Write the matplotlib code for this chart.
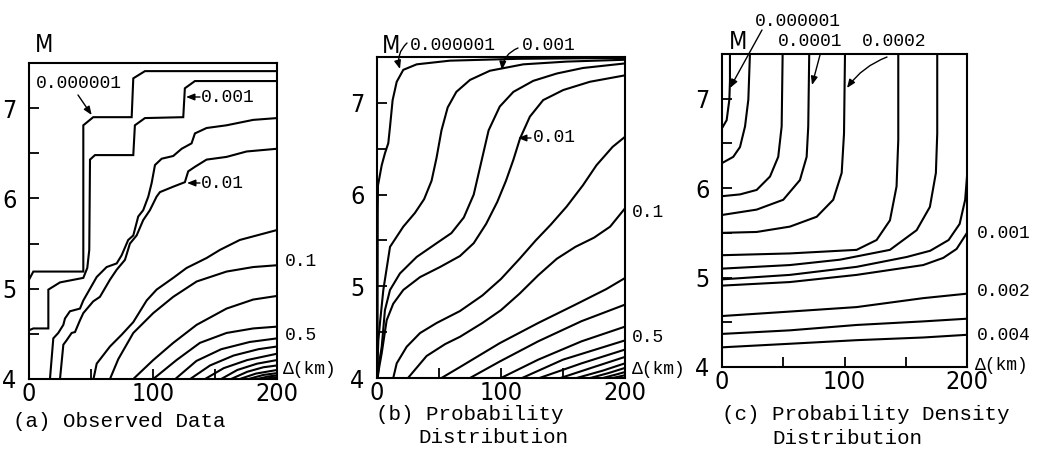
import matplotlib
matplotlib.use("Agg")
import matplotlib.pyplot as plt
from matplotlib import font_manager

W, H = 1046, 454
names = {f.name for f in font_manager.fontManager.ttflist}
if 'Liberation Sans Narrow' in names:
    TICK_FONT = dict(family='Liberation Sans Narrow')
else:
    TICK_FONT = dict(family='DejaVu Sans', stretch='condensed')
MONO_FONT = ['Liberation Mono', 'DejaVu Sans Mono']

# (a) observed data: contour polylines, (distance km, magnitude M)
obs_contours = [
    [(0, 5.10), (3.5, 5.19), (43.8, 5.19), (43.8, 6.81), (51.8, 6.90), (82.8, 6.90), (84.1, 7.33), (93.5, 7.41), (200, 7.41)],
    [(0, 4.54), (3.5, 4.56), (15.6, 4.56), (15.6, 4.99), (25.0, 5.07), (43.8, 5.12), (47.0, 5.23), (48.6, 5.43), (49.2, 6.43),
     (53.2, 6.48), (84.1, 6.48), (85.4, 6.81), (93.5, 6.89), (124.4, 6.90), (125.7, 7.22), (133.8, 7.30), (200, 7.30)],
    [(16.9, 4.0), (19.6, 4.45), (23.6, 4.51), (27.7, 4.60), (29.0, 4.67), (33.0, 4.75), (41.1, 4.78), (43.8, 4.87), (54.6, 5.13),
     (62.6, 5.24), (70.7, 5.28), (74.7, 5.37), (80.0, 5.54), (84.1, 5.59), (88.1, 5.80), (92.1, 5.87), (96.2, 6.02), (98.9, 6.17),
     (101.6, 6.37), (107.0, 6.44), (116.3, 6.47), (123.1, 6.55), (131.1, 6.61), (133.8, 6.72), (143.2, 6.78), (159.3, 6.81),
     (180.8, 6.87), (200, 6.89)],
    [(25.0, 4.0), (27.7, 4.38), (30.4, 4.43), (34.4, 4.51), (37.1, 4.52), (41.1, 4.65), (43.8, 4.73), (51.8, 4.86), (57.2, 4.91),
     (65.3, 5.10), (70.7, 5.21), (77.4, 5.32), (81.4, 5.50), (86.8, 5.59), (92.1, 5.76), (97.5, 5.87), (102.9, 6.02), (105.6, 6.07),
     (116.3, 6.13), (125.7, 6.18), (128.4, 6.30), (133.8, 6.35), (143.2, 6.43), (159.3, 6.46), (175.5, 6.52), (200, 6.55)],
    [(52.0, 4.0), (54.6, 4.17), (65.3, 4.36), (74.7, 4.49), (84.1, 4.63), (94.9, 4.87), (102.9, 4.99), (116.3, 5.12), (127.1, 5.23),
     (143.2, 5.34), (154.0, 5.43), (170.0, 5.54), (200, 5.65)],
    [(65.3, 4.0), (72.0, 4.22), (84.1, 4.51), (100.2, 4.73), (116.3, 4.91), (135.2, 5.08), (159.3, 5.19), (180.8, 5.24), (200, 5.26)],
    [(84.1, 4.0), (100.2, 4.21), (116.3, 4.40), (135.2, 4.60), (159.3, 4.78), (180.8, 4.88), (200, 4.92)],
    [(100.2, 4.0), (119.0, 4.21), (137.8, 4.40), (159.3, 4.51), (180.8, 4.56), (200, 4.58)],
    [(118, 4.0), (135, 4.20), (155, 4.33), (178, 4.41), (200, 4.45)],
    [(130, 4.0), (146, 4.15), (165, 4.26), (185, 4.33), (200, 4.36)],
    [(142, 4.0), (157, 4.12), (176, 4.21), (200, 4.28)],
    [(155, 4.0), (168, 4.10), (184, 4.17), (200, 4.21)],
    [(163, 4.0), (176, 4.08), (189, 4.13), (200, 4.15)],
    [(170, 4.0), (183, 4.06), (200, 4.10)],
    [(177, 4.0), (189, 4.045), (200, 4.065)],
    [(184, 4.0), (193, 4.028), (200, 4.04)],
    [(189, 4.0), (196, 4.015), (200, 4.02)],
    [(194, 4.0), (200, 4.008)],
]

# (b) probability distribution
prob_contours = [
    [(0.4, 4.0), (0.5, 5.0), (0.6, 5.8), (0.8, 6.1), (3.8, 6.32), (6.4, 6.45), (9.1, 6.56), (10.5, 6.74), (12.6, 7.03),
     (15.9, 7.23), (21.2, 7.36), (32, 7.42), (58.8, 7.46), (112.6, 7.48), (200, 7.49)],
    [(0.3, 4.0), (0.5, 4.2), (1.1, 4.41), (2.4, 4.60), (5.1, 4.96), (10.5, 5.43), (21.2, 5.65), (30.6, 5.80), (38, 5.95),
     (44, 6.15), (48, 6.40), (52, 6.70), (57, 6.95), (64, 7.12), (75, 7.25), (91, 7.35), (118, 7.42), (153, 7.45), (200, 7.47)],
    [(0.4, 4.0), (1.5, 4.15), (3.8, 4.34), (6.4, 4.74), (10.5, 4.96), (18.5, 5.14), (32, 5.32), (48.1, 5.47), (60, 5.58),
     (70, 5.75), (78, 6.0), (84, 6.35), (90, 6.70), (99, 6.96), (110, 7.12), (126, 7.24), (145, 7.32), (166, 7.38), (200, 7.43)],
    [(0.5, 4.0), (1.8, 4.12), (3.8, 4.27), (7.8, 4.63), (13.1, 4.81), (21.2, 4.96), (34.7, 5.10), (50.8, 5.21), (66.9, 5.33),
     (78, 5.47), (88, 5.68), (97, 5.92), (104, 6.15), (110, 6.38), (115.3, 6.61), (123.3, 6.85), (134, 7.03), (150.2, 7.14),
     (171.7, 7.23), (200, 7.30)],
    [(13.1, 4.0), (15.9, 4.16), (23.9, 4.34), (34.7, 4.49), (48.1, 4.60), (66.9, 4.73), (85, 4.90), (100, 5.08), (115, 5.30),
     (128, 5.50), (140, 5.67), (153, 5.87), (166, 6.10), (177, 6.32), (190, 6.52), (200, 6.63)],
    [(25, 4.0), (40, 4.24), (55, 4.37), (67, 4.45), (85, 4.60), (100, 4.74), (115, 4.92), (130, 5.12), (145, 5.30),
     (160, 5.43), (175, 5.53), (188, 5.65), (200, 5.85)],
    [(52, 4.0), (67, 4.12), (99, 4.38), (130, 4.60), (160, 4.80), (185, 4.97), (200, 5.09)],
    [(75, 4.0), (99, 4.18), (130, 4.40), (165, 4.62), (200, 4.80)],
    [(100, 4.0), (130, 4.20), (165, 4.40), (200, 4.56)],
    [(117, 4.0), (150, 4.20), (200, 4.41)],
    [(131, 4.0), (165, 4.16), (200, 4.31)],
    [(148, 4.0), (175, 4.12), (200, 4.23)],
    [(161, 4.0), (182, 4.08), (200, 4.16)],
    [(172, 4.0), (187, 4.055), (200, 4.11)],
    [(182, 4.0), (192, 4.035), (200, 4.065)],
    [(190, 4.0), (200, 4.03)],
]

# (c) probability density distribution
dens_contours = [
    [(0, 6.67), (3.8, 6.76), (6.0, 6.99), (6.5, 7.2), (6.5, 7.5)],
    [(0, 6.28), (9.2, 6.35), (14.7, 6.46), (18.8, 6.69), (21.5, 6.99), (22.8, 7.5)],
    [(0, 5.91), (14.7, 5.93), (28.3, 5.98), (39.2, 6.13), (45.9, 6.35), (48.7, 6.69), (49.5, 7.5)],
    [(0, 5.70), (28.3, 5.76), (50, 5.87), (63.6, 6.09), (69.1, 6.35), (70.4, 6.69), (71.2, 7.5)],
    [(0, 5.50), (28.3, 5.51), (55.5, 5.57), (77.3, 5.68), (90.8, 5.87), (97.7, 6.17), (99.6, 6.61), (100.4, 7.5)],
    [(0, 5.25), (55.5, 5.27), (109.9, 5.31), (126.2, 5.42), (137.1, 5.64), (142.5, 6.02), (143.9, 6.54), (143.9, 7.5)],
    [(0, 5.10), (55.5, 5.14), (96.3, 5.20), (137.1, 5.31), (158.9, 5.53), (169.7, 5.79), (174.6, 6.17), (175.7, 6.61), (175.7, 7.5)],
    [(0, 4.98), (55.5, 5.03), (109.9, 5.12), (150.7, 5.23), (170, 5.30), (185, 5.42), (194, 5.60), (198.5, 5.87), (200, 6.13)],
    [(0, 4.91), (55.5, 4.95), (109.9, 5.03), (164.3, 5.14), (180.6, 5.22), (191.5, 5.32), (200, 5.50)],
    [(0, 4.57), (55.5, 4.62), (109.9, 4.67), (164.3, 4.77), (200, 4.82)],
    [(0, 4.37), (55.5, 4.41), (109.9, 4.47), (164.3, 4.51), (200, 4.54)],
    [(0, 4.22), (55.5, 4.26), (109.9, 4.30), (164.3, 4.33), (200, 4.36)],
]

x_ticks = [0, 50, 100, 150, 200]
x_labels = ['0', '', '100', '', '200']
y_ticks = [4, 4.5, 5, 5.5, 6, 6.5, 7]
y_labels = ['4', '', '5', '', '6', '', '7']

# axes boxes in pixels: left, top, right, bottom
boxes = [(29, 63, 277, 379), (377, 57, 625, 378), (722, 54, 967, 367)]
panels = [obs_contours, prob_contours, dens_contours]

fig = plt.figure(figsize=(W / 100, H / 100), dpi=100)


def ftext(px, py, s, **kw):
    kw.setdefault('family', MONO_FONT)
    kw.setdefault('fontsize', 13)
    kw.setdefault('va', 'center')
    fig.text(px / W, 1 - py / H, s, **kw)


def arrow(x0, y0, x1, y1, rad=0.0):
    fig.add_artist(matplotlib.patches.FancyArrowPatch(
        (x0 / W, 1 - y0 / H), (x1 / W, 1 - y1 / H), transform=fig.transFigure,
        arrowstyle='-|>,head_length=5,head_width=2', lw=1.0, color='k',
        connectionstyle=f'arc3,rad={rad}', shrinkA=0, shrinkB=0))


for (l, t, r, b), lines in zip(boxes, panels):
    ax = fig.add_axes([l / W, 1 - b / H, (r - l) / W, (b - t) / H])
    for pts in lines:
        xs = [p[0] for p in pts]
        ys = [p[1] for p in pts]
        ax.plot(xs, ys, color='black', lw=1.5, solid_joinstyle='miter')
    ax.set_xlim(0, 200)
    ax.set_ylim(4, 7.5)
    ax.set_xticks(x_ticks)
    ax.set_xticklabels(x_labels, fontsize=18, **TICK_FONT)
    ax.set_yticks(y_ticks)
    ax.set_yticklabels(y_labels, fontsize=18, **TICK_FONT)
    ax.tick_params(direction='in', length=7, width=1.3)
    ax.tick_params(axis='x', pad=2)
    ax.tick_params(axis='y', pad=9)
    for sp in ax.spines.values():
        sp.set_linewidth(1.5)

# (a) labels
ftext(44, 45, 'M', fontsize=17, ha='center', **TICK_FONT)
ftext(36, 83, '0.000001')
arrow(78, 95, 91.7, 115)
ftext(201, 97, '0.001')
arrow(200, 97, 186, 97)
ftext(201, 183, '0.01')
arrow(200, 183, 187, 183)
ftext(285, 262, '0.1')
ftext(285, 335, '0.5')
ftext(283, 370, 'Δ(km)')
ftext(13, 427, '(a) Observed Data', fontsize=15, va='baseline')

# (b) labels
ftext(391, 46, 'M', fontsize=17, ha='center', **TICK_FONT)
ftext(410, 46, '0.000001')
arrow(407, 43, 400, 69, rad=0.3)
ftext(522, 46, '0.001')
arrow(518, 48, 502, 70, rad=0.3)
ftext(533, 138, '0.01')
arrow(531, 138, 518, 138)
ftext(632, 212, '0.1')
ftext(632, 337, '0.5')
ftext(632, 370, 'Δ(km)')
ftext(376, 420, '(b) Probability', fontsize=15, va='baseline')
ftext(418, 443, 'Distribution', fontsize=15, va='baseline')

# (c) labels
ftext(755, 22, '0.000001')
arrow(762, 30, 730, 88)
ftext(738, 42, 'M', fontsize=17, ha='center', **TICK_FONT)
ftext(778, 42, '0.0001')
arrow(820, 55, 812, 85)
ftext(862, 42, '0.0002')
arrow(887, 57, 847, 88, rad=0.15)
ftext(977, 233, '0.001')
ftext(977, 292, '0.002')
ftext(977, 335, '0.004')
ftext(975, 365, 'Δ(km)')
ftext(722, 420, '(c) Probability Density', fontsize=15, va='baseline')
ftext(772, 444, 'Distribution', fontsize=15, va='baseline')

fig.savefig('out.png', dpi=100)
